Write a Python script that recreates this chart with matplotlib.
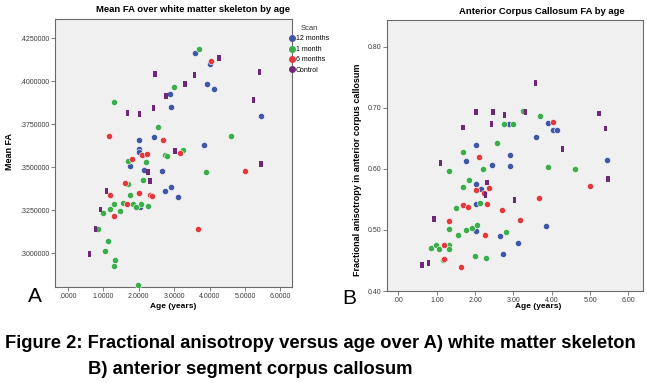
import numpy as np
import matplotlib
matplotlib.use("Agg")
import matplotlib.pyplot as plt
from matplotlib.lines import Line2D

plt.rcParams['font.family'] = ['Liberation Sans', 'DejaVu Sans']

# panel A: mean FA over white matter skeleton
a_12m_age = [3.59, 4.01, 3.92, 4.13, 2.89, 2.91, 5.45, 2.01, 2.44, 3.84, 2.01, 2.01, 1.76, 2.15, 2.66, 2.73, 2.92, 3.12, 2.02]
a_12m_fa = [.4163, .4099, .3986, .3954, .3927, .3850, .3798, .3659, .3676, .3628, .3608, .3589, .3510, .3483, .3479, .3363, .3386, .3330, .3268]
a_1m_age = [3.70, 2.98, 1.31, 2.54, 4.60, 3.24, 2.74, 2.80, 1.68, 2.21, 3.90, 1.68, 2.12, 1.76, 1.30, 1.54, 1.84, 2.05, 1.91,
            2.27, 1.19, 1.48, 0.98, 0.84, 1.14, 1.04, 1.32, 1.31, 1.99]
a_1m_fa = [.4189, .3968, .3879, .3736, .3684, .3601, .3572, .3564, .3539, .3529, .3475, .3402, .3425, .3338, .3286, .3294, .3288, .3290, .3268,
           .3278, .3259, .3249, .3234, .3143, .3071, .3017, .2963, .2926, .2816]
a_6m_age = [4.04, 1.17, 2.69, 2.08, 2.23, 3.17, 1.81, 5.00, 1.62, 1.19, 2.01, 2.31, 2.37, 1.67, 1.31, 3.66]
a_6m_fa = [.4117, .3684, .3659, .3574, .3580, .3585, .3551, .3479, .3410, .3340, .3352, .3342, .3332, .3288, .3218, .3141]
a_ctl_age = [4.27, 2.46, 3.57, 5.41, 3.30, 2.77, 5.24, 2.42, 1.68, 2.02, 3.02, 2.26, 5.46, 2.31, 1.08, 0.92, 0.78, 0.60]
a_ctl_fa = [.4136, .4045, .4035, .4053, .3986, .3916, .3889, .3844, .3817, .3809, .3597, .3471, .3520, .3423, .3363, .3255, .3143, .2999]

# panel B: anterior corpus callosum FA
b_12m_age = [3.91, 4.02, 4.13, 2.89, 3.58, 2.01, 2.92, 1.76, 5.44, 2.44, 2.92, 2.02, 2.15, 2.02, 2.02, 2.66, 3.84, 3.12, 2.73]
b_12m_fa = [.676, .663, .663, .673, .6525, .6394, .623, .6132, .6148, .6072, .6055, .5755, .5667, .5427, .4979, .4902, .5072, .4782, .4613]
b_1m_age = [3.24, 3.70, 2.74, 2.98, 2.56, 1.68, 1.32, 2.21, 3.90, 4.61, 1.85, 1.69, 1.49, 2.13, 1.31, 1.55, 1.77, 1.92, 2.05,
            2.80, 0.85, 0.99, 1.05, 1.32, 1.31, 1.99, 2.28, 1.15]
b_1m_fa = [.6957, .6869, .6733, .6733, .6432, .6279, .5962, .6001, .6028, .5995, .5826, .5711, .5367, .5438, .5012, .4924, .5006, .5033, .5083,
           .4973, .4711, .4755, .4684, .4760, .4684, .4574, .4542, .4509]
b_6m_age = [4.04, 2.09, 2.02, 2.37, 2.23, 5.00, 3.66, 1.68, 1.81, 2.32, 2.70, 1.32, 3.18, 2.25, 1.19, 1.20, 1.63]
b_6m_fa = [.6771, .6192, .5662, .5695, .5607, .5722, .5525, .5405, .5378, .5432, .5328, .5148, .5159, .4913, .4755, .4520, .4394]
b_ctl_age = [3.57, 2.02, 2.46, 2.77, 3.31, 5.23, 1.68, 2.43, 5.40, 4.28, 1.09, 5.46, 2.31, 2.27, 3.03, 0.93, 0.78, 0.62]
b_ctl_fa = [.741, .694, .694, .688, .694, .6908, .6678, .6738, .6662, .6328, .6104, .5837, .5777, .5574, .5498, .5181, .4465, .4427]

scan_names = ['12 months', '1 month', '6 months', 'Control']
colors = ['#3f57a6', '#3aae4a', '#e23a3c', '#6e2877']
bg = '#f0f0f0'
frame = '#6a6a6a'

# small upright bar used for control scans
bar = [(-0.6, -1), (0.6, -1), (0.6, 1), (-0.6, 1), (-0.6, -1)]


def scatter_panel(ax, groups):
    for (x, y), c, name in zip(groups, colors, scan_names):
        if name == 'Control':
            ax.scatter(x, y, marker=bar, s=18, c=c, edgecolors='none', zorder=3)
        else:
            ax.scatter(x, y, marker='o', s=20, c=c, edgecolors='#ffffff', linewidths=0.4, zorder=3)
    ax.set_facecolor(bg)
    for sp in ax.spines.values():
        sp.set_color(frame)
        sp.set_linewidth(0.8)
    ax.tick_params(length=3, width=0.6, color=frame, labelsize=5, labelcolor='#3a3a3a', pad=1)


fig = plt.figure(figsize=(6.47, 3.83), dpi=100)

ax1 = fig.add_axes([55 / 647, 96 / 383, 237 / 647, 268 / 383])
scatter_panel(ax1, [(a_12m_age, a_12m_fa), (a_1m_age, a_1m_fa), (a_6m_age, a_6m_fa), (a_ctl_age, a_ctl_fa)])
ax1.set_xlim(-0.37, 6.33)
ax1.set_ylim(0.2805, 0.4362)
ax1.set_xticks(range(7))
ax1.set_xticklabels(['.0000'] + ['%d.0000' % i for i in range(1, 7)])
yt1 = [0.300, 0.325, 0.350, 0.375, 0.400, 0.425]
ax1.set_yticks(yt1)
ax1.set_yticklabels([('%.7f' % v)[1:] for v in yt1])

ax2 = fig.add_axes([387 / 647, 92 / 383, 256 / 647, 271 / 383])
scatter_panel(ax2, [(b_12m_age, b_12m_fa), (b_1m_age, b_1m_fa), (b_6m_age, b_6m_fa), (b_ctl_age, b_ctl_fa)])
ax2.set_xlim(-0.30, 6.38)
ax2.set_ylim(0.40, 0.844)
ax2.set_xticks(range(7))
ax2.set_xticklabels(['.00'] + ['%d.00' % i for i in range(1, 7)])
yt2 = [0.40, 0.50, 0.60, 0.70, 0.80]
ax2.set_yticks(yt2)
ax2.set_yticklabels(['%.2f' % v for v in yt2])

# titles and axis labels
fig.text(193 / 647, 1 - 10 / 383, 'Mean FA over white matter skeleton by age', ha='center', va='center',
         fontsize=6.8, fontweight='bold')
fig.text(542 / 647, 1 - 11 / 383, 'Anterior Corpus Callosum FA by age', ha='center', va='center',
         fontsize=6.8, fontweight='bold')
fig.text(10 / 647, 1 - 152 / 383, 'Mean FA', rotation=90, ha='center', va='center', fontsize=6.5, fontweight='bold')
fig.text(357 / 647, 1 - 170 / 383, 'Fractional anisotropy in anterior corpus callosum', rotation=90,
         ha='center', va='center', fontsize=6.5, fontweight='bold')
fig.text(173 / 647, 1 - 306 / 383, 'Age (years)', ha='center', va='center', fontsize=6, fontweight='bold')
fig.text(538 / 647, 1 - 307 / 383, 'Age (years)', ha='center', va='center', fontsize=6, fontweight='bold')
fig.text(35 / 647, 1 - 296 / 383, 'A', ha='center', va='center', fontsize=15)
fig.text(349 / 647, 1 - 299 / 383, 'B', ha='center', va='center', fontsize=15)

# legend
handles = [Line2D([], [], marker='o', ls='none', color=c, markersize=4) for c in colors]
leg = fig.legend(handles, scan_names, title='Scan', loc='upper left', bbox_to_anchor=(290 / 647, 1 - 25 / 383),
                 frameon=False, fontsize=5, title_fontsize=5.5, handlelength=0.6, handletextpad=0.2,
                 labelspacing=0.5, borderpad=0, borderaxespad=0)
leg.get_title().set_color('#333333')

# caption
fig.text(5 / 647, 1 - 344 / 383, 'Figure 2: Fractional anisotropy versus age over A) white matter skeleton',
         ha='left', va='center', fontsize=13.2, fontweight='bold')
fig.text(88 / 647, 1 - 370 / 383, 'B) anterior segment corpus callosum', ha='left', va='center',
         fontsize=13.2, fontweight='bold')

fig.savefig('out.png', dpi=100, facecolor='white')
